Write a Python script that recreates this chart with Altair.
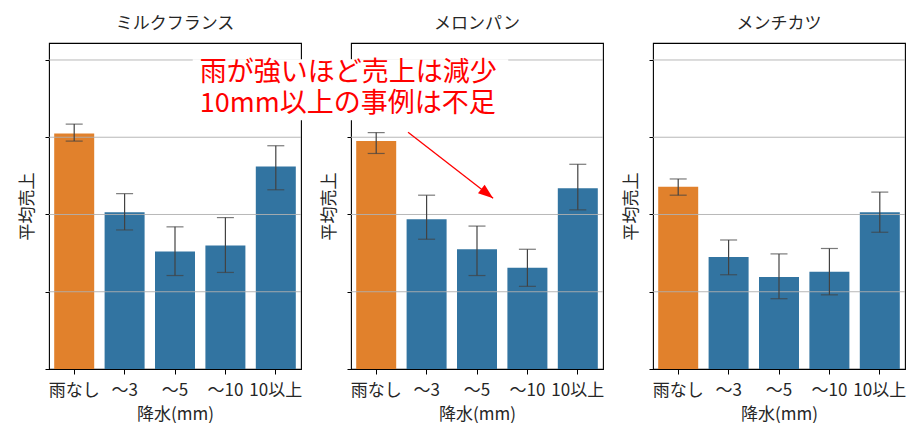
import altair as alt
import pandas as pd

products = ["ミルクフランス", "メロンパン", "メンチカツ"]
categories = ["雨なし", "～3", "～5", "～10", "10以上"]

milk_mean = [3.05, 2.03, 1.52, 1.60, 2.62]
milk_lo = [2.95, 1.80, 1.21, 1.25, 2.32]
milk_hi = [3.17, 2.27, 1.84, 1.96, 2.89]

melon_mean = [2.95, 1.94, 1.55, 1.31, 2.34]
melon_lo = [2.79, 1.68, 1.21, 1.07, 2.06]
melon_hi = [3.06, 2.25, 1.85, 1.55, 2.65]

menchi_mean = [2.36, 1.45, 1.19, 1.26, 2.03]
menchi_lo = [2.25, 1.22, 0.91, 0.96, 1.77]
menchi_hi = [2.46, 1.67, 1.49, 1.56, 2.29]

y_ticks = [0, 1, 2, 3, 4]
grid_ticks = [1, 2, 3, 4]
y_max = 4.22

ann_lines = ["雨が強いほど売上は減少", "10mm以上の事例は不足"]
ann_line_y = [3.83, 3.43]
ann_text_x = -3.50
ann_box = {"x": -3.64, "x2": 2.62, "y": 4.01, "y2": 3.22}
arrow_from = (0.632, 3.066)
arrow_to = (2.32, 2.21)

ORANGE = "#e1812c"
BLUE = "#3274a1"
FONT = "Noto Sans CJK JP"

series = {
    "ミルクフランス": (milk_mean, milk_lo, milk_hi),
    "メロンパン": (melon_mean, melon_lo, melon_hi),
    "メンチカツ": (menchi_mean, menchi_lo, menchi_hi),
}

W, H = 252, 326

yscale = alt.Scale(domain=[0, y_max], nice=False, zero=True)
xscale = alt.Scale(domain=categories, paddingInner=0.2, paddingOuter=0.1)


def panel(name, annotate=False):
    m, lo, hi = series[name]
    df = pd.DataFrame({"cat": categories, "mean": m, "lo": lo, "hi": hi,
                       "grp": ["no" if c == "雨なし" else "rain" for c in categories]})
    base = alt.Chart(df)
    xenc = alt.X("cat:N", scale=xscale, sort=categories,
                 axis=alt.Axis(title="降水(mm)", labelAngle=0, grid=False))
    bars = base.mark_bar(size=40).encode(
        x=xenc,
        y=alt.Y("mean:Q", scale=yscale,
                axis=alt.Axis(title="平均売上", values=y_ticks, labels=False, grid=False)),
        color=alt.Color("grp:N", scale=alt.Scale(domain=["no", "rain"], range=[ORANGE, BLUE]),
                        legend=None),
    )
    grid = alt.Chart(pd.DataFrame({"g": grid_ticks})).mark_rule(
        color="#b0b0b0", strokeWidth=0.9).encode(y=alt.Y("g:Q", scale=yscale))
    err = base.mark_rule(color="#424242", strokeWidth=1.2).encode(
        x=alt.X("cat:N", scale=xscale, sort=categories),
        y=alt.Y("lo:Q", scale=yscale), y2="hi:Q")
    cap_lo = base.mark_tick(color="#424242", size=17, thickness=1.2).encode(
        x=alt.X("cat:N", scale=xscale, sort=categories), y=alt.Y("lo:Q", scale=yscale))
    cap_hi = base.mark_tick(color="#424242", size=17, thickness=1.2).encode(
        x=alt.X("cat:N", scale=xscale, sort=categories), y=alt.Y("hi:Q", scale=yscale))
    main = alt.layer(bars, grid, err, cap_lo, cap_hi)
    if annotate:
        qx = alt.Scale(domain=[-0.5, 4.5], nice=False, zero=False)
        box = alt.Chart(pd.DataFrame([ann_box])).mark_rect(color="white", clip=False).encode(
            x=alt.X("x:Q", scale=qx, axis=None), x2="x2:Q",
            y=alt.Y("y:Q", scale=yscale), y2="y2:Q")
        txt = alt.Chart(pd.DataFrame({"t": ann_lines, "y": ann_line_y,
                                      "x": [ann_text_x] * 2})).mark_text(
            color="red", fontSize=27, align="left", baseline="middle", font=FONT).encode(
            x=alt.X("x:Q", scale=qx, axis=None), y=alt.Y("y:Q", scale=yscale), text="t:N")
        adf = pd.DataFrame({"x": [arrow_from[0]], "y": [arrow_from[1]],
                            "x2": [arrow_to[0]], "y2": [arrow_to[1]]})
        shaft = alt.Chart(adf).mark_rule(color="red", strokeWidth=1.3).encode(
            x=alt.X("x:Q", scale=qx, axis=None), y=alt.Y("y:Q", scale=yscale),
            x2="x2:Q", y2="y2:Q")
        head = alt.Chart(adf).mark_point(
            shape="M0,0L0.36,1L-0.36,1Z", size=900, angle=128, filled=True,
            color="red", opacity=1, strokeWidth=0).encode(
            x=alt.X("x2:Q", scale=qx, axis=None), y=alt.Y("y2:Q", scale=yscale))
        ann = alt.layer(box, txt, shaft, head)
        ch = alt.layer(main, ann).resolve_scale(x="independent")
    else:
        ch = main
    return ch.properties(width=W, height=H, title=name)


chart = alt.hconcat(
    panel("ミルクフランス"),
    panel("メロンパン", annotate=True),
    panel("メンチカツ"),
    spacing=50, bounds="flush",
).properties(
    padding={"left": 9, "top": 6, "right": 5, "bottom": 0}
).configure(font=FONT).configure_view(
    stroke="black", strokeWidth=1.1
).configure_axis(
    labelFont=FONT, titleFont=FONT, labelFontSize=17, titleFontSize=17,
    labelColor="#262626", titleColor="#262626", titleFontWeight="normal",
    tickColor="black", domain=False, tickSize=5, labelPadding=8,
).configure_axisY(titlePadding=8, tickSize=4).configure_axisX(titlePadding=8).configure_title(
    font=FONT, fontSize=17, fontWeight="normal", color="#262626", offset=10
)

chart.save("out.html", embed_options={"renderer": "svg", "actions": False})
